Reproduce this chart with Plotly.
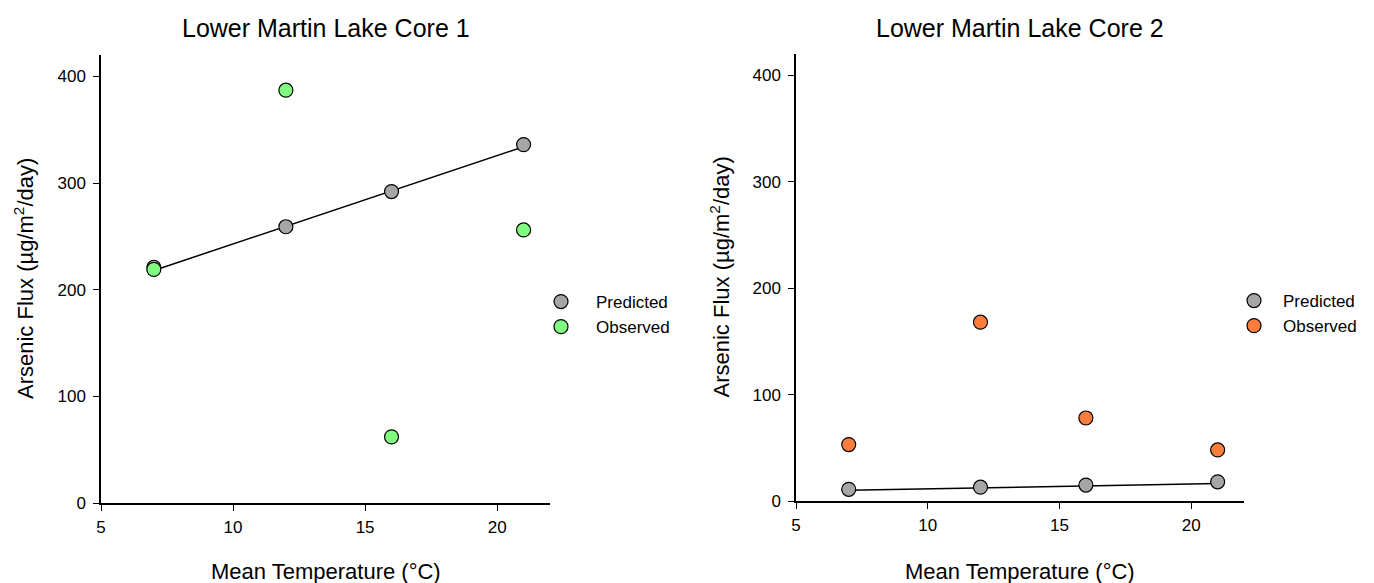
import plotly.graph_objects as go

temps = [7, 12, 16, 21]

core1_predicted = [221, 259, 292, 336]
core1_observed = [219, 387, 62, 256]
core1_fit_x = [7, 21]
core1_fit_y = [218, 334]

core2_predicted = [11, 13, 15, 18]
core2_observed = [53, 168, 78, 48]
core2_fit_x = [7, 21]
core2_fit_y = [10, 16.5]

titles = ["Lower Martin Lake Core 1", "Lower Martin Lake Core 2"]
x_title = "Mean Temperature (°C)"
y_title = "Arsenic Flux (µg/m<sup>2</sup>/day)"

gray = "#a6a6a6"
green = "#80fc80"
orange = "#fd7e3c"
FONT = "Liberation Sans, Arial, sans-serif"

fig = go.Figure()

marker_base = dict(size=14, line=dict(color="black", width=1.2))

# Core 1
fig.add_trace(go.Scatter(x=core1_fit_x, y=core1_fit_y, mode="lines",
                         line=dict(color="black", width=1.5), showlegend=False,
                         xaxis="x", yaxis="y"))
fig.add_trace(go.Scatter(x=temps, y=core1_predicted, mode="markers", name="Predicted",
                         marker=dict(color=gray, **marker_base), legend="legend",
                         xaxis="x", yaxis="y"))
fig.add_trace(go.Scatter(x=temps, y=core1_observed, mode="markers", name="Observed",
                         marker=dict(color=green, **marker_base), legend="legend",
                         xaxis="x", yaxis="y"))
# Core 2
fig.add_trace(go.Scatter(x=core2_fit_x, y=core2_fit_y, mode="lines",
                         line=dict(color="black", width=1.5), showlegend=False,
                         xaxis="x2", yaxis="y2"))
fig.add_trace(go.Scatter(x=temps, y=core2_predicted, mode="markers", name="Predicted",
                         marker=dict(color=gray, **marker_base), legend="legend2",
                         xaxis="x2", yaxis="y2"))
fig.add_trace(go.Scatter(x=temps, y=core2_observed, mode="markers", name="Observed",
                         marker=dict(color=orange, **marker_base), legend="legend2",
                         xaxis="x2", yaxis="y2"))

W, H = 1374, 583

def px_x(p):
    return p / W

def px_y(p):
    return 1 - p / H

axis_common = dict(showgrid=False, zeroline=False, showline=True, linecolor="black",
                   linewidth=1.5, ticks="outside", ticklen=6, tickwidth=1.2,
                   tickcolor="black", automargin=False,
                   tickfont=dict(size=17, color="black", family=FONT))

xa = dict(range=[5, 22], tickvals=[5, 10, 15, 20], ticklabelstandoff=2, **axis_common)
ya = dict(range=[0, 420], tickvals=[0, 100, 200, 300, 400], ticklabelstandoff=4, **axis_common)

# panel pixel geometry (left, right, top, bottom)
p1 = (101, 550, 55, 503)
p2 = (796, 1244, 54, 501)

legend_common = dict(xanchor="left", yanchor="top", font=dict(size=17, color="black", family=FONT),
                     bgcolor="rgba(0,0,0,0)", tracegroupgap=0)

annotations = []
for (l, r, t, b), ttl in zip([p1, p2], titles):
    cx = (px_x(l) + px_x(r)) / 2
    annotations.append(dict(text=ttl, x=cx, y=px_y(28), xref="paper", yref="paper",
                            showarrow=False, font=dict(size=25, color="black", family=FONT),
                            xanchor="center", yanchor="middle"))
    annotations.append(dict(text=x_title, x=cx, y=px_y(571), xref="paper", yref="paper",
                            showarrow=False, font=dict(size=22, color="black", family=FONT),
                            xanchor="center", yanchor="middle"))
    annotations.append(dict(text=y_title, x=px_x(l - 77), y=(px_y(t) + px_y(b)) / 2,
                            xref="paper", yref="paper", textangle=-90,
                            showarrow=False, font=dict(size=22, color="black", family=FONT),
                            xanchor="center", yanchor="middle"))

fig.update_layout(
    width=W, height=H,
    margin=dict(l=0, r=0, t=0, b=0),
    plot_bgcolor="white", paper_bgcolor="white",
    font=dict(family=FONT, color="black"),
    xaxis=dict(domain=[px_x(p1[0]), px_x(p1[1])], anchor="y", **xa),
    yaxis=dict(domain=[px_y(p1[3]), px_y(p1[2])], anchor="x", **ya),
    xaxis2=dict(domain=[px_x(p2[0]), px_x(p2[1])], anchor="y2", **xa),
    yaxis2=dict(domain=[px_y(p2[3]), px_y(p2[2])], anchor="x2", **ya),
    legend=dict(x=px_x(526), y=px_y(284), itemwidth=60, **legend_common),
    legend2=dict(x=px_x(1225), y=px_y(283), itemwidth=48, **legend_common),
    annotations=annotations,
)

fig.write_html("out.html")
